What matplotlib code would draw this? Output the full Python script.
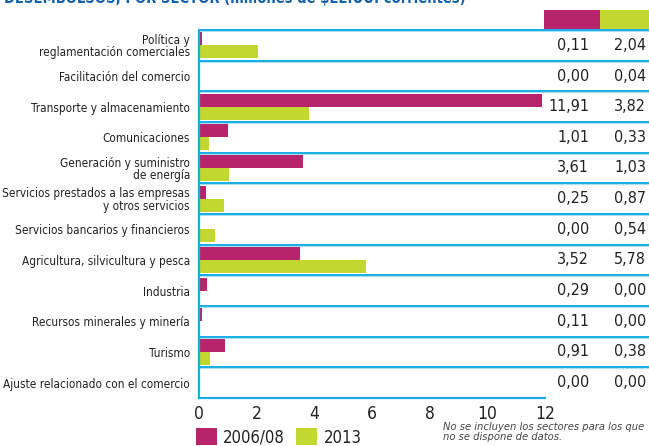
import matplotlib
matplotlib.use("Agg")
import matplotlib.pyplot as plt
from matplotlib.patches import Rectangle
from matplotlib.transforms import blended_transform_factory

# --- data ---
sectores = [
    "Política y\nreglamentación comerciales",
    "Facilitación del comercio",
    "Transporte y almacenamiento",
    "Comunicaciones",
    "Generación y suministro\nde energía",
    "Servicios prestados a las empresas\ny otros servicios",
    "Servicios bancarios y financieros",
    "Agricultura, silvicultura y pesca",
    "Industria",
    "Recursos minerales y minería",
    "Turismo",
    "Ajuste relacionado con el comercio",
]
v_2006_08 = [0.11, 0.00, 11.91, 1.01, 3.61, 0.25, 0.00, 3.52, 0.29, 0.11, 0.91, 0.00]
v_2013 = [2.04, 0.04, 3.82, 0.33, 1.03, 0.87, 0.54, 5.78, 0.00, 0.00, 0.38, 0.00]
x_ticks = [0, 2, 4, 6, 8, 10, 12]

MAGENTA = "#B8246B"
GREEN = "#C2D72F"
BLUE = "#1AADE4"
LIGHT_BLUE = "#9ADAF4"
TXT = "#222222"

plt.rcParams["font.family"] = ["DejaVu Sans"]
plt.rcParams["font.stretch"] = "condensed"

W, H = 649, 446
fig = plt.figure(figsize=(W / 100, H / 100), dpi=100)
x0, x1, y_top, y_bot = 199, 545, 30, 398
ax = fig.add_axes([x0 / W, (H - y_bot) / H, (x1 - x0) / W, (y_bot - y_top) / H])

n = len(sectores)
pos = list(range(n))
bh = 0.42
ax.barh([p - 0.21 for p in pos], v_2006_08, height=bh, color=MAGENTA, zorder=3)
ax.barh([p + 0.21 for p in pos], v_2013, height=bh, color=GREEN, zorder=3)

ax.set_xlim(0, 12)
ax.set_ylim(n - 0.5, -0.5)
ax.set_yticks(pos)
ax.set_yticklabels(sectores, fontsize=8.5, color=TXT, linespacing=0.95)
ax.set_xticks(x_ticks)
ax.set_xticklabels([str(t) for t in x_ticks], fontsize=12.5, color=TXT)
ax.tick_params(length=0)
ax.tick_params(axis="x", pad=5)
ax.tick_params(axis="y", pad=6.5)

for s in ["top", "right"]:
    ax.spines[s].set_visible(False)
for s in ["left", "bottom"]:
    ax.spines[s].set_color(BLUE)
    ax.spines[s].set_linewidth(1.6)
    ax.spines[s].set_zorder(4)

# row separators extending past the axes to the table on the right
ext = (W - x0) / (x1 - x0)
for k in range(n):
    y = k - 0.5
    ax.axhline(y + 0.035, xmin=0, xmax=ext, color=LIGHT_BLUE, lw=1.2, clip_on=False, zorder=2)
    ax.axhline(y, xmin=0, xmax=ext, color=BLUE, lw=1.4, clip_on=False, zorder=2)

# value table
tr = blended_transform_factory(fig.transFigure, ax.transData)
for k in pos:
    ax.text(589 / W, k, f"{v_2006_08[k]:.2f}".replace(".", ","), transform=tr,
            ha="right", va="center", fontsize=11.5, color=TXT)
    ax.text(646 / W, k, f"{v_2013[k]:.2f}".replace(".", ","), transform=tr,
            ha="right", va="center", fontsize=11.5, color=TXT)

# header colour boxes
fig.add_artist(Rectangle((544 / W, (H - 29) / H), 56 / W, 19 / H,
                         transform=fig.transFigure, color=MAGENTA, lw=0))
fig.add_artist(Rectangle((600 / W, (H - 29) / H), 49 / W, 19 / H,
                         transform=fig.transFigure, color=GREEN, lw=0))

# title, cut off at the top edge as in the source page
fig.text(4 / W, 1 - 3 / H, "DESEMBOLSOS, POR SECTOR (millones de $EE.UU. corrientes)",
         ha="left", va="baseline", fontsize=10.5, fontweight="bold", color="#1560AC")

# legend
fig.add_artist(Rectangle((196 / W, 1 / H), 21 / W, 17 / H, transform=fig.transFigure,
                         color=MAGENTA, lw=0))
fig.text(223 / W, 8 / H, "2006/08", ha="left", va="center", fontsize=12, color=TXT)
fig.add_artist(Rectangle((296 / W, 1 / H), 21 / W, 17 / H, transform=fig.transFigure,
                         color=GREEN, lw=0))
fig.text(324 / W, 8 / H, "2013", ha="left", va="center", fontsize=12, color=TXT)

fig.text(443 / W, 14 / H, "No se incluyen los sectores para los que\nno se dispone de datos.",
         ha="left", va="center", fontsize=8, style="italic", color="#444444",
         linespacing=1.1)

fig.savefig("out.png", dpi=100)
